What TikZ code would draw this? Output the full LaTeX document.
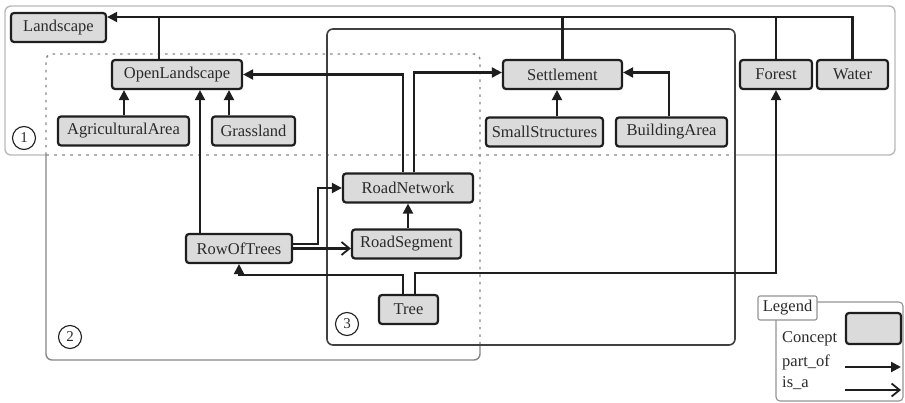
\documentclass[tikz,border=0pt]{standalone}
\usepackage{fontspec}
\setmainfont{Liberation Serif}
\usepackage{tikz}
\usetikzlibrary{arrows.meta}
\usetikzlibrary{positioning}

\definecolor{ink}{HTML}{1E1E1E}
\definecolor{txt}{HTML}{2A2A2A}

\begin{document}
\begin{tikzpicture}[x=1pt,y=-1pt,
	concept/.style={draw=ink,fill=gray!28,line width=2.2pt,rounded corners=3pt,minimum height=29pt,inner xsep=3pt,text=txt,font=\fontsize{16.5}{19}\selectfont},
	partof/.style={draw=ink,line width=2.1pt,-{Triangle[length=10pt,width=10pt]}},
	isa/.style={draw=ink,line width=2.1pt,-{Straight Barb[length=8pt,width=13pt,line width=1.8pt]}},
	link/.style={draw=ink,line width=2.1pt},
	nr/.style={circle,draw=ink,line width=1.1pt,minimum size=23pt,inner sep=0pt,text=txt,font=\fontsize{15}{17}\selectfont},
	lbl/.style={anchor=west,text=txt,inner sep=0pt,font=\fontsize{16.5}{19}\selectfont}]
	\useasboundingbox (0,0) rectangle (905,403);

	% regions
	\draw[gray!55,line width=1.4pt,rounded corners=6pt] (46,155) -| (5,6) -| (895,155) -- (735,155);
	\draw[gray!60,line width=1.4pt,dash pattern=on 3pt off 5pt] (46,155) -- (735,155);
	\draw[gray!95,line width=1.4pt,rounded corners=6pt] (46,155) |- (480,360) -- (480,345);
	\draw[gray!95,line width=1.4pt,rounded corners=6pt,dash pattern=on 2.5pt off 5pt] (46,155) |- (480,54) -- (480,345);
	\draw[black!75,line width=1.6pt,rounded corners=6pt] (327,29) rectangle (735,345);
	\node[nr] (n1) at (24,138) {1};
	\node[nr] (n2) at (70,337) {2};
	\node[nr] (n3) at (347,324) {3};

	% concepts
	\node[concept,minimum width=95pt] (Landscape) at (58.5,27.5) {Landscape};
	\node[concept,minimum width=130pt] (OpenLandscape) at (177,74.5) {OpenLandscape};
	\node[concept,minimum width=131pt] (AgriculturalArea) at (123.5,131) {AgriculturalArea};
	\node[concept,minimum width=83pt] (Grassland) at (253.5,131) {Grassland};
	\node[concept,minimum width=119pt] (Settlement) at (562.5,74.5) {Settlement};
	\node[concept,minimum width=117pt] (SmallStructures) at (544.5,132) {SmallStructures};
	\node[concept,minimum width=111pt] (BuildingArea) at (671.5,132) {BuildingArea};
	\node[concept,minimum width=72pt] (Forest) at (776,74.5) {Forest};
	\node[concept,minimum width=71pt] (Water) at (852.5,74.5) {Water};
	\node[concept,minimum width=130pt] (RoadNetwork) at (408,188) {RoadNetwork};
	\node[concept,minimum width=109pt] (RoadSegment) at (406.5,244) {RoadSegment};
	\node[concept,minimum width=106pt] (RowOfTrees) at (239,248.5) {RowOfTrees};
	\node[concept,minimum width=59pt] (Tree) at (408.5,309.5) {Tree};

	% relations
	\coordinate (bus) at (0,17);
	\draw[partof] (Water.north) |- (Landscape.east |- bus);
	\draw[link] (Forest.north) -- (Forest.north |- bus);
	\draw[link] (Settlement.north) -- (Settlement.north |- bus);
	\draw[link] ([xshift=-18pt]OpenLandscape.north) -- ([xshift=-18pt]OpenLandscape.north |- bus);
	\draw[partof] ([xshift=0.5pt]AgriculturalArea.north) -- ([xshift=0.5pt]AgriculturalArea.north |- OpenLandscape.south);
	\draw[partof] ([xshift=-24.5pt]Grassland.north) -- ([xshift=-24.5pt]Grassland.north |- OpenLandscape.south);
	\draw[partof] ([xshift=-39pt]RowOfTrees.north) -- ([xshift=-39pt]RowOfTrees.north |- OpenLandscape.south);
	\draw[partof] ([xshift=-5pt]RoadNetwork.north) |- (OpenLandscape.east);
	\draw[partof] ([xshift=6pt]RoadNetwork.north) |- ([yshift=2pt]Settlement.west);
	\draw[partof] ([xshift=-5.5pt]Settlement.south |- SmallStructures.north) -- ([xshift=-5.5pt]Settlement.south);
	\draw[partof] ([xshift=-2.5pt]BuildingArea.north) |- ([yshift=2pt]Settlement.east);
	\draw[partof] ([xshift=1.5pt]RoadSegment.north) -- ([xshift=1.5pt]RoadSegment.north |- RoadNetwork.south);
	\draw[partof] ([yshift=4.5pt]RowOfTrees.east) -- ++(25,0) |- (RoadNetwork.west);
	\draw[isa] (RowOfTrees.east) -- (RowOfTrees.east -| RoadSegment.west);
	\draw[partof] ([xshift=-5.5pt]Tree.north) -- ++(0,-19) -| (RowOfTrees.south);
	\draw[partof] ([xshift=6.5pt]Tree.north) -- ++(0,-21) -| (Forest.south);

	% legend
	\draw[gray!85,line width=1.1pt,rounded corners=4pt] (776,302) rectangle (903,401);
	\node[draw=gray!85,fill=white,line width=1.1pt,rounded corners=2pt,minimum width=59pt,minimum height=24pt,inner sep=1pt,text=txt,font=\fontsize{16.5}{19}\selectfont] (legend) at (787.5,308) {Legend};
	\node[lbl] (lconcept) at (782,339) {Concept};
	\node[concept,minimum width=55pt,minimum height=31pt] (lbox) at (873.5,328.5) {};
	\node[lbl] (lpartof) at (782,362) {part\_of};
	\node[lbl] (lisa) at (782,383) {is\_a};
	\coordinate (pa) at (845,367);
	\coordinate (pb) at (901,367);
	\coordinate (ia) at (845,390);
	\coordinate (ib) at (901,390);
	\draw[partof] (pa) -- (pb);
	\draw[isa] (ia) -- (ib);
\end{tikzpicture}
\end{document}
